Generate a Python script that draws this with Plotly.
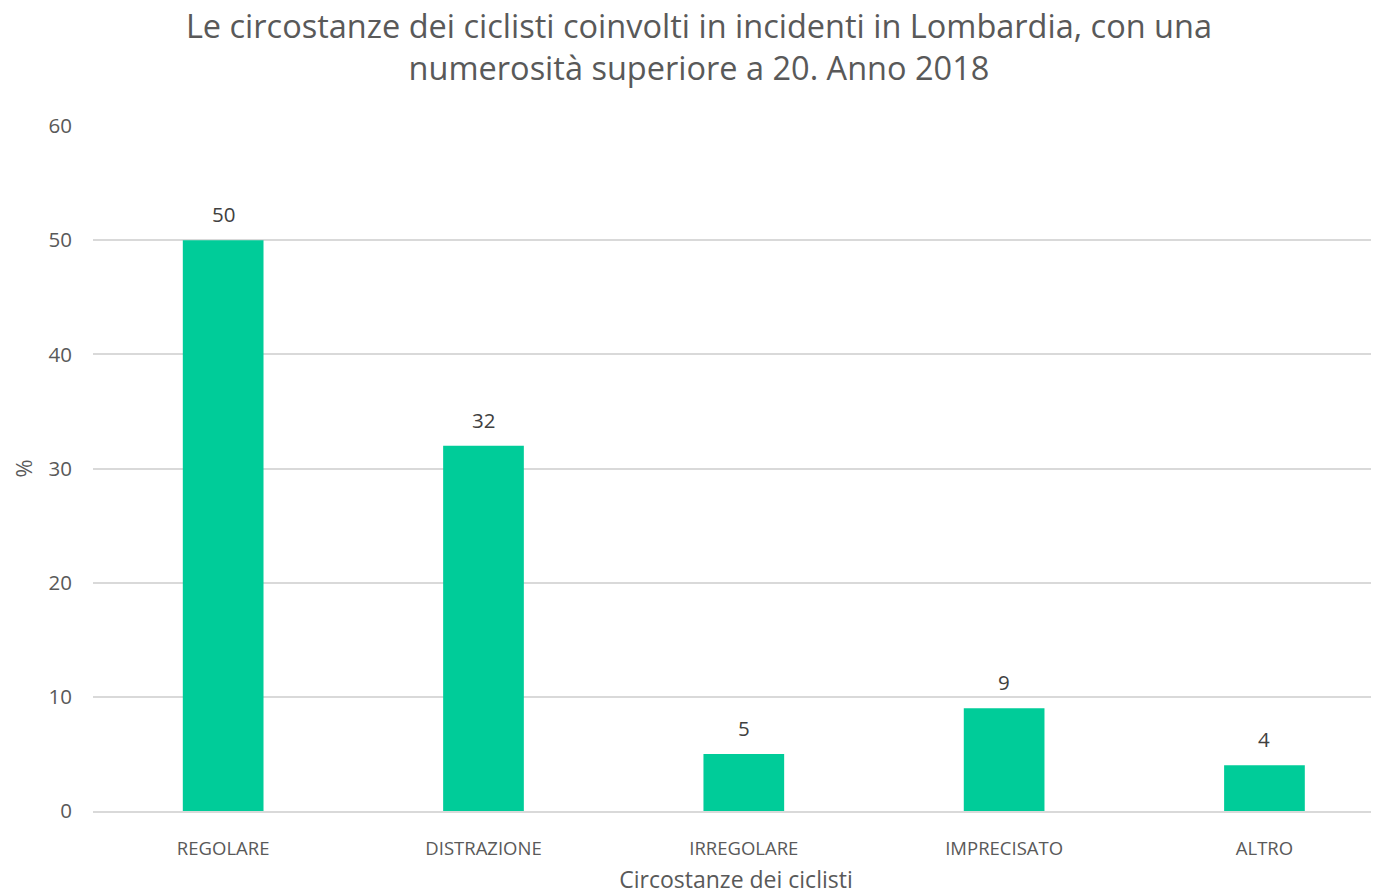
import plotly.graph_objects as go

categories = ["REGOLARE", "DISTRAZIONE", "IRREGOLARE", "IMPRECISATO", "ALTRO"]
values = [50, 32, 5, 9, 4]

TEXT = "#595959"
FONT = "Open Sans, Noto Sans, sans-serif"

# page body has an 8px margin, so the figure is sized to fit inside it
W, H = 1371, 887

fig = go.Figure()

fig.add_trace(go.Bar(
    x=categories,
    y=values,
    marker={"color": "#00CC99", "line": {"width": 0}},
    width=0.31,
    hoverinfo="x+y",
))

# value labels above the bars
for cat, val in zip(categories, values):
    fig.add_annotation(
        x=cat, y=val, text=str(val), showarrow=False,
        yanchor="bottom", yshift=10,
        font={"size": 20.5, "color": "#404040", "family": FONT},
    )

fig.update_layout(
    width=W,
    height=H,
    paper_bgcolor="white",
    plot_bgcolor="white",
    font={"family": FONT, "color": TEXT},
    margin={"l": 85, "r": 0, "t": 118, "b": 84},
    showlegend=False,
    title={
        "text": "Le circostanze dei ciclisti coinvolti in incidenti in Lombardia, con una<br>numerosità superiore a 20. Anno 2018",
        "font": {"size": 32.5, "color": TEXT, "family": FONT},
        "x": 0.504,
        "xanchor": "center",
        "y": 1 - 30 / H,
        "yanchor": "middle",
        "yref": "container",
    },
)

fig.update_xaxes(
    range=[-0.5, 4.44],
    showline=True,
    linecolor="#d9d9d9",
    linewidth=1.5,
    showgrid=False,
    ticks="outside",
    ticklen=20,
    tickcolor="rgba(0,0,0,0)",
    tickfont={"size": 18.5, "color": TEXT},
    title={"text": "Circostanze dei ciclisti", "font": {"size": 23, "color": TEXT}, "standoff": 18},
)

fig.update_yaxes(
    range=[0, 60],
    dtick=10,
    showgrid=True,
    gridcolor="#d9d9d9",
    gridwidth=1.5,
    zeroline=False,
    showline=False,
    ticks="outside",
    ticklen=16,
    tickcolor="rgba(0,0,0,0)",
    tickfont={"size": 20.5, "color": TEXT},
    title={"text": "%", "font": {"size": 22, "color": TEXT}, "standoff": 12},
)

fig.write_html("out.html")
